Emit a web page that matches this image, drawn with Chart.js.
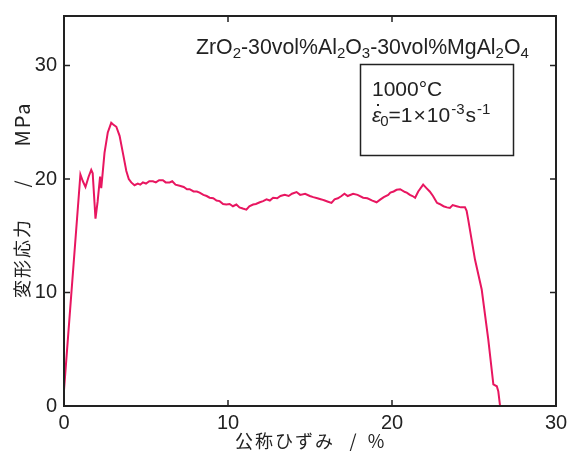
<!DOCTYPE html>
<html>
<head>
<meta charset="utf-8">
<script src="https://cdn.jsdelivr.net/npm/chart.js@4.4.1/dist/chart.umd.min.js"></script>
<style>
  html, body { margin: 0; padding: 0; background: #fff; }
  #wrap { width: 569px; height: 454px; }
</style>
</head>
<body>
<div id="wrap"><canvas id="mychart"></canvas></div>
<script>
// nominal strain (%) and flow stress (MPa)
const strain = [
  0, 1.0, 1.15, 1.31, 1.5, 1.66, 1.75, 1.92, 2.05, 2.2, 2.27, 2.35, 2.47, 2.67, 2.88, 3.0,
  3.19, 3.39, 3.59, 3.8, 3.95, 4.1, 4.3, 4.5, 4.65, 4.81, 5.0, 5.2, 5.42, 5.6, 5.8, 6.03,
  6.2, 6.44, 6.6, 6.8, 7.05, 7.3, 7.5, 7.66, 7.9, 8.1, 8.27, 8.5, 8.7, 8.88, 9.1, 9.3,
  9.49, 9.7, 9.9, 10.1, 10.3, 10.51, 10.7, 10.9, 11.12, 11.3, 11.53, 11.7, 11.94, 12.14,
  12.35, 12.55, 12.75, 13.0, 13.2, 13.46, 13.7, 13.9, 14.18, 14.4, 14.7, 14.99, 15.2, 15.45,
  15.7, 15.9, 16.1, 16.31, 16.5, 16.7, 16.92, 17.1, 17.3, 17.63, 17.9, 18.24, 18.5, 18.8,
  19.06, 19.3, 19.5, 19.77, 19.9, 20.1, 20.28, 20.5, 20.79, 20.9, 21.09, 21.25, 21.41, 21.6,
  21.9, 22.1, 22.3, 22.5, 22.74, 22.9, 23.14, 23.35, 23.53, 23.7, 23.94, 24.2, 24.45, 24.55,
  24.65, 25.06, 25.47, 25.87, 26.18, 26.39, 26.48, 26.59
];
const stress = [
  1.4, 20.4, 19.8, 19.3, 20.2, 20.8, 20.5, 16.5, 18.0, 20.2, 19.2, 20.4, 22.3, 24.1, 24.95, 24.8,
  24.6, 23.8, 22.3, 20.7, 20.0, 19.7, 19.45, 19.6, 19.5, 19.7, 19.6, 19.8, 19.8, 19.7, 19.9, 19.9,
  19.7, 19.7, 19.8, 19.5, 19.4, 19.3, 19.1, 19.1, 18.9, 18.9, 18.8, 18.6, 18.5, 18.35, 18.3, 18.1,
  18.05, 17.8, 17.75, 17.8, 17.6, 17.75, 17.5, 17.4, 17.3, 17.6, 17.75, 17.8, 17.95, 18.05,
  18.2, 18.1, 18.35, 18.3, 18.5, 18.6, 18.5, 18.7, 18.85, 18.6, 18.7, 18.5, 18.4, 18.3,
  18.2, 18.1, 18.0, 17.9, 18.2, 18.3, 18.5, 18.7, 18.5, 18.7, 18.6, 18.35, 18.3, 18.1,
  17.95, 18.2, 18.4, 18.6, 18.8, 18.9, 19.05, 19.1, 18.85, 18.8, 18.6, 18.5, 18.35, 18.9,
  19.5, 19.2, 18.9, 18.5, 17.9, 17.8, 17.6, 17.5, 17.45, 17.7, 17.6, 17.5, 17.5, 17.2,
  16.4, 12.9, 10.26, 5.86, 1.9, 1.74, 1.3, 0
];
const xTicks = [0, 10, 20, 30];
const yTicks = [0, 10, 20, 30];
const lineColor = "rgb(232,22,96)";

var pts = [];
for (var i = 0; i < strain.length; i++) {
  pts.push({ x: strain[i], y: stress[i] });
}

// draws a string made of [text, kind] pieces, returns end x
function drawParts(ctx, parts, x, y, size) {
  for (var i = 0; i < parts.length; i++) {
    var p = parts[i];
    if (p[1] == "sub") {
      ctx.font = Math.round(size * 0.7) + "px 'Liberation Sans', Arial";
      ctx.fillText(p[0], x, y + size * 0.18);
    } else if (p[1] == "sup") {
      ctx.font = Math.round(size * 0.72) + "px 'Liberation Sans', Arial";
      ctx.fillText(p[0], x, y - size * 0.38);
    } else {
      ctx.font = size + "px 'Liberation Sans', Arial";
      ctx.fillText(p[0], x, y);
    }
    x += ctx.measureText(p[0]).width;
  }
  return x;
}

// drop the extra room Chart.js keeps for overhanging labels
function noPad(s) {
  s.paddingTop = 0;
  s.paddingBottom = 0;
  s.paddingLeft = 0;
  s.paddingRight = 0;
}

const framePlugin = {
  id: "frame",
  afterDraw(chart) {
    const ctx = chart.ctx;
    const a = chart.chartArea;
    const sx = chart.scales.x;
    const sy = chart.scales.y;
    ctx.save();
    ctx.strokeStyle = "#222";
    ctx.lineWidth = 2;
    ctx.strokeRect(a.left, a.top, a.right - a.left, a.bottom - a.top);
    // inward ticks on all four sides
    ctx.lineWidth = 1.5;
    ctx.beginPath();
    xTicks.forEach((v) => {
      var px = sx.getPixelForValue(v);
      ctx.moveTo(px, a.bottom); ctx.lineTo(px, a.bottom - 6);
      ctx.moveTo(px, a.top); ctx.lineTo(px, a.top + 6);
    });
    yTicks.forEach((v) => {
      var py = sy.getPixelForValue(v);
      ctx.moveTo(a.left, py); ctx.lineTo(a.left + 6, py);
      ctx.moveTo(a.right, py); ctx.lineTo(a.right - 6, py);
    });
    ctx.stroke();

    ctx.fillStyle = "#222";
    ctx.textBaseline = "alphabetic";
    ctx.textAlign = "left";
    // material label
    drawParts(ctx, [["ZrO", ""], ["2", "sub"], ["-30vol%Al", ""], ["2", "sub"], ["O", ""], ["3", "sub"],
      ["-30vol%MgAl", ""], ["2", "sub"], ["O", ""], ["4", "sub"]], 196, 54, 21.3);

    // condition box
    ctx.lineWidth = 1.5;
    ctx.strokeRect(360.5, 64.5, 153, 91);
    ctx.font = "21px 'Liberation Sans', Arial";
    ctx.fillText("1000°C", 372, 96);
    ctx.font = "italic 21px 'Liberation Sans', Arial";
    ctx.fillText("ε", 372, 122);
    ctx.fillRect(377, 104, 2, 2);
    var ex = 372 + ctx.measureText("ε").width;
    ex = drawParts(ctx, [["0", "sub"]], ex - 1, 122, 21);
    ex = drawParts(ctx, [["=1", ""]], ex, 122, 21);
    ex = drawParts(ctx, [["×", ""]], ex + 1, 122, 21);
    ex = drawParts(ctx, [["10", ""]], ex + 1, 122, 21);
    ex = drawParts(ctx, [["-3", "sup"]], ex + 1, 122, 21);
    ex = drawParts(ctx, [["s", ""]], ex + 1, 122, 21);
    drawParts(ctx, [["-1", "sup"]], ex + 1, 122, 21);

    // axis titles, drawn in pieces to match the wide spacing
    ctx.font = "18px 'Noto Sans CJK JP'";
    ctx.textAlign = "center";
    ctx.textBaseline = "middle";
    ctx.letterSpacing = "2px";
    ctx.fillText("公称ひずみ", 285, 441);
    ctx.letterSpacing = "0px";
    ctx.fillText("/", 353, 441);
    ctx.fillText("%", 376, 441);
    ctx.save();
    ctx.translate(22, 0);
    ctx.rotate(-Math.PI / 2);
    ctx.letterSpacing = "2px";
    ctx.fillText("変形応力", -258, 0);
    ctx.letterSpacing = "0px";
    ctx.fillText("/", -184, 0);
    ctx.font = "20px 'Noto Sans CJK JP'";
    ctx.letterSpacing = "2px";
    ctx.fillText("MPa", -124, 0);
    ctx.restore();
    ctx.restore();
  }
};

const config = {
  type: "scatter",
  data: {
    datasets: [
      {
        label: "stress",
        data: pts,
        showLine: true,
        borderColor: lineColor,
        borderWidth: 2,
        pointRadius: 0,
        fill: false,
        tension: 0,
      },
    ],
  },
  options: {
    responsive: true,
    maintainAspectRatio: false,
    animation: false,
    layout: { padding: { left: 0, right: 13, top: 16, bottom: 0 } },
    plugins: { legend: { display: false }, tooltip: { enabled: false } },
    scales: {
      x: {
        type: "linear",
        min: 0,
        max: 30,
        afterFit: (s) => { s.height = 48; noPad(s); },
        afterBuildTicks: (s) => { s.ticks = xTicks.map((v) => ({ value: v })); },
        grid: { display: false, drawTicks: false },
        border: { display: false },
        ticks: { color: "#222", padding: 5, font: { family: "'Liberation Sans', Arial", size: 20 } },
      },
      y: {
        type: "linear",
        min: 0,
        max: 34.36,
        afterFit: (s) => { s.width = 64; noPad(s); },
        afterBuildTicks: (s) => { s.ticks = yTicks.map((v) => ({ value: v })); },
        grid: { display: false, drawTicks: false },
        border: { display: false },
        ticks: { color: "#222", padding: 7, font: { family: "'Liberation Sans', Arial", size: 20 } },
      },
    },
  },
  plugins: [framePlugin],
};

const mychart = new Chart(document.getElementById("mychart"), config);
</script>
</body>
</html>
